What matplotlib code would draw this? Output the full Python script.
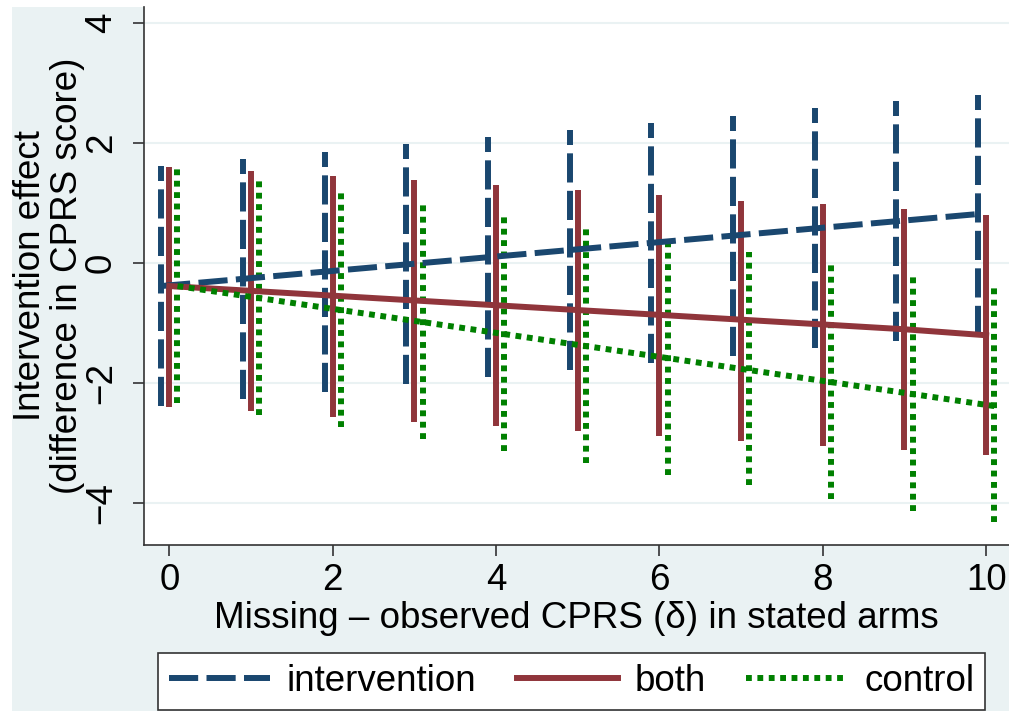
import matplotlib
matplotlib.use('Agg')
import matplotlib.pyplot as plt
from matplotlib.patches import Rectangle

plt.rcParams['font.family'] = ['Liberation Sans', 'DejaVu Sans']
plt.rcParams['lines.scale_dashes'] = False

FS = 26.5

# sensitivity parameter delta
delta = [0, 1, 2, 3, 4, 5, 6, 7, 8, 9, 10]

# point estimates and confidence limits per arm
interv_est = [-0.38, -0.26, -0.14, -0.02, 0.10, 0.22, 0.34, 0.46, 0.58, 0.70, 0.82]
interv_hi = [1.62, 1.74, 1.86, 1.98, 2.10, 2.22, 2.34, 2.46, 2.58, 2.70, 2.80]
interv_lo = [-2.38, -2.26, -2.14, -2.02, -1.90, -1.78, -1.66, -1.54, -1.42, -1.30, -1.20]

both_est = [-0.38, -0.46, -0.54, -0.62, -0.70, -0.78, -0.86, -0.94, -1.02, -1.10, -1.20]
both_hi = [1.60, 1.54, 1.46, 1.38, 1.30, 1.22, 1.14, 1.04, 0.98, 0.90, 0.80]
both_lo = [-2.40, -2.46, -2.56, -2.64, -2.72, -2.80, -2.88, -2.97, -3.04, -3.12, -3.20]

ctrl_est = [-0.38, -0.58, -0.78, -0.98, -1.18, -1.38, -1.58, -1.78, -1.98, -2.18, -2.38]
ctrl_hi = [1.59, 1.39, 1.19, 0.99, 0.79, 0.59, 0.39, 0.19, -0.01, -0.21, -0.41]
ctrl_lo = [-2.33, -2.53, -2.73, -2.93, -3.13, -3.33, -3.53, -3.70, -3.93, -4.13, -4.31]

series = [
    ('intervention', interv_est, interv_lo, interv_hi, -0.1, '#1a476f', (0, (21, 6))),
    ('both', both_est, both_lo, both_hi, 0.0, '#90353b', '-'),
    ('control', ctrl_est, ctrl_lo, ctrl_hi, 0.1, '#008000', (0, (4.2, 4))),
]

fig = plt.figure(figsize=(10.09, 7.11), dpi=100)
fig.patch.set_facecolor('white')
# stata-like graph region
fig.patches.append(Rectangle((12 / 1009, 0), 1, 1 - 7 / 711, transform=fig.transFigure,
                             facecolor='#eaf2f3', edgecolor='none', zorder=-5))

ax = fig.add_axes([144 / 1009, 1 - 545 / 711, 1 - 144 / 1009, (545 - 7) / 711])
ax.set_facecolor('white')

handles = []
for name, est, lo, hi, off, col, ls in series:
    xs = [d + off for d in delta]
    ax.vlines(xs, lo, hi, colors=col, linestyles=ls, linewidth=4.3, capstyle='butt', zorder=3)
    h, = ax.plot(xs, est, color=col, linestyle=ls, linewidth=4.3,
                 dash_capstyle='butt', zorder=4, label=name)
    handles.append(h)

ax.set_xlim(-0.31, 10.28)
ax.set_ylim(-4.695, 4.27)
ax.set_xticks([0, 2, 4, 6, 8, 10])
ax.set_yticks([-4, -2, 0, 2, 4])
ax.grid(axis='y', color='#eaf2f3', linewidth=1.5)
ax.set_axisbelow(True)
for s in ['top', 'right']:
    ax.spines[s].set_visible(False)
for s in ['left', 'bottom']:
    ax.spines[s].set_color('#333333')
    ax.spines[s].set_linewidth(1.2)
ax.tick_params(axis='both', length=8, width=1.2, color='#333333', labelsize=FS)
ax.tick_params(axis='x', pad=5)
ax.tick_params(axis='y', pad=10)
for t in ax.get_yticklabels():
    t.set_rotation(90)
    t.set_va('center')

ax.set_xlabel('Missing \u2013 observed CPRS (\u03b4) in stated arms', fontsize=FS, labelpad=2)
fig.text(49 / 1009, 1 - 276 / 711, 'Intervention effect\n(difference in CPRS score)',
         rotation=90, ha='center', va='center', fontsize=FS, linespacing=1.05,
         multialignment='center')

leg = fig.legend(handles=handles, loc='upper left', ncol=3,
                 bbox_to_anchor=(158 / 1009, 1 - 653 / 711), fontsize=FS,
                 frameon=True, fancybox=False, edgecolor='#333333', framealpha=1,
                 handlelength=2.75, handletextpad=0.45, columnspacing=1.1,
                 borderpad=0.3, borderaxespad=0)
leg.get_frame().set_linewidth(1.2)

fig.savefig('out.png', dpi=100, facecolor=fig.get_facecolor())
